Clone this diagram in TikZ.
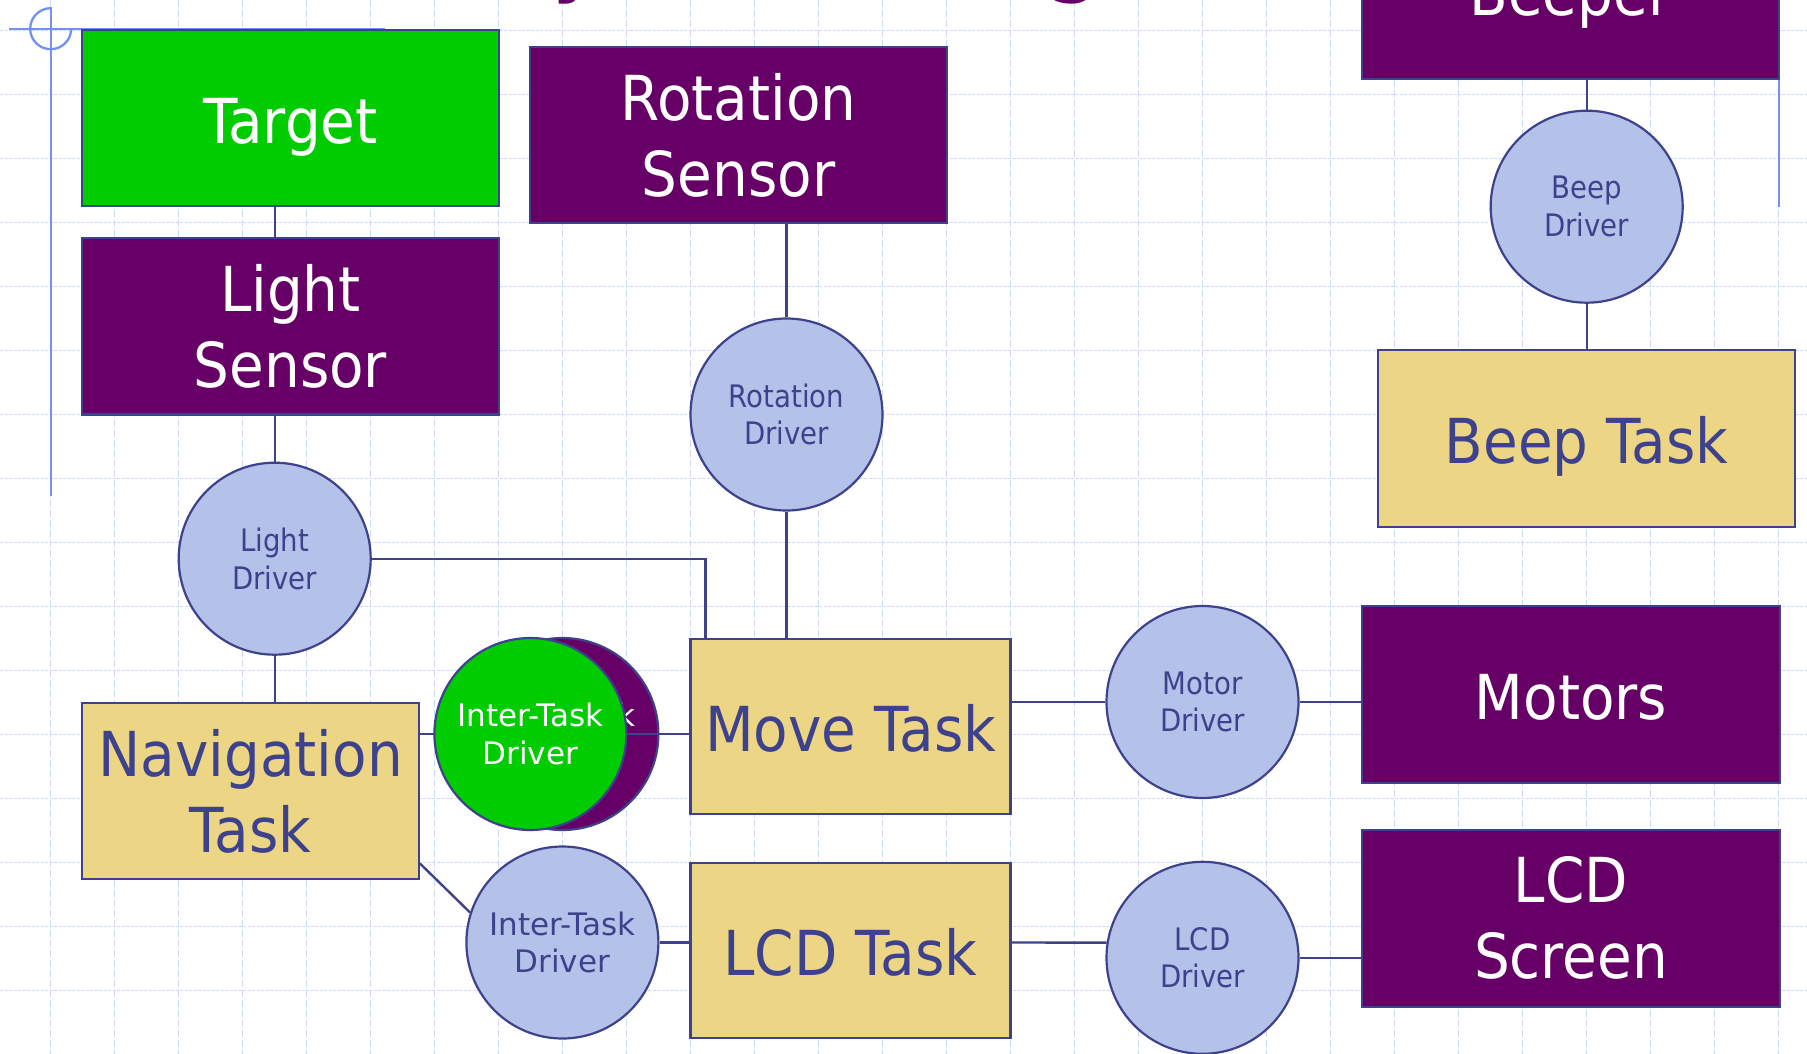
\documentclass[tikz,border=0pt]{standalone}
\usepackage{fontspec}
\setmainfont[FakeStretch=0.89]{DejaVu Sans}
\newfontfamily\BigFam[FakeStretch=0.91]{DejaVu Sans}
\newfontfamily\WideFam{DejaVu Sans}
\definecolor{hwpurple}{RGB}{102,0,102}
\definecolor{hwgreen}{RGB}{0,204,0}
\definecolor{hwtan}{RGB}{236,214,134}
\definecolor{hwdrv}{RGB}{180,194,234}
\definecolor{hwnavy}{RGB}{62,66,140}
\definecolor{hwgrid}{RGB}{205,216,250}
\definecolor{hwdeco}{RGB}{115,145,240}
\newcommand\BigTxt{\BigFam\fontsize{62}{76}\selectfont}
\newcommand\SmallTxt{\fontsize{31}{37.7}\selectfont}
\newcommand\WideSmallTxt{\WideFam\fontsize{31}{37.7}\selectfont}
\newcommand\TitleTxt{\fontsize{109}{109}\selectfont}
\begin{document}
\begin{tikzpicture}[x=1pt,y=-1pt,
  boxnode/.style={rectangle, draw=hwnavy, line width=2.2pt, inner sep=0pt,
    minimum width=416.7pt, minimum height=176.4pt, align=center, font=\BigTxt},
  sensor/.style={boxnode, fill=hwpurple, text=white},
  target/.style={boxnode, fill=hwgreen, text=white},
  task/.style={boxnode, fill=hwtan, text=hwnavy},
  oneline/.style={text height=50pt, text depth=0pt},
  drv/.style={circle, draw=hwnavy, line width=2.2pt, fill=hwdrv, text=hwnavy,
    minimum size=192pt, inner sep=0pt, align=center, font=\SmallTxt},
  itdrv/.style={drv, font=\WideSmallTxt},
  link/.style={draw=hwnavy, line width=2.4pt},
  gridh/.style={draw=hwgrid, line width=1.4pt, dash pattern=on 3pt off 1.5pt},
  gridv/.style={draw=hwgrid, line width=1.4pt, dash pattern=on 7pt off 3pt},
  deco/.style={draw=hwdeco, line width=2.3pt}]
\useasboundingbox (0,0) rectangle (1807,1054);
\clip (0,0) rectangle (1807,1054);
\fill[white] (0,0) rectangle (1807,1054);
% grid
\foreach \i in {0,...,27} \draw[gridv] (50.7+64*\i,0) -- (50.7+64*\i,1054);
\foreach \j in {0,...,16} \draw[gridh] (0,30.7+64*\j) -- (1807,30.7+64*\j);
% title (cut off at the top)
\node[anchor=base west, inner sep=0pt, font=\TitleTxt, text=hwpurple] (title) at (490,-18.5) {System Diagram};
% template decoration
\draw[deco] (50.7,7.3) -- (50.7,496);
\draw[deco] (9.3,28.7) -- (385,28.7);
\draw[deco] (50.7,8.2) arc[start angle=90, end angle=360, radius=20.5pt];
\draw[deco] (1778.7,0) -- (1778.7,206.7);
% nodes
\node[target, oneline] (target) at (290.4,118) {Target};
\node[sensor] (lightsensor) at (290.4,326.3) {Light\\Sensor};
\node[sensor] (rotsensor) at (738.5,134.9) {Rotation\\Sensor};
\node[sensor, oneline] (beeper) at (1570.3,-9.5) {Beeper};
\node[drv] (beepdriver) at (1586.7,206.7) {Beep\\Driver};
\node[task, oneline] (beeptask) at (1586.7,438.5) {Beep Task};
\node[drv] (rotdriver) at (786.5,414.5) {Rotation\\Driver};
\node[drv] (lightdriver) at (274.7,558.7) {Light\\Driver};
\node[task, minimum width=336.5pt] (navtask) at (250.6,790.9) {Navigation\\Task};
\node[task, oneline, minimum width=320pt, minimum height=175.3pt] (movetask) at (850.5,726.4) {Move Task};
\node[drv] (motordriver) at (1202.5,702) {Motor\\Driver};
\node[sensor, oneline, minimum width=417.4pt] (motors) at (1571,694.4) {Motors};
\node[task, oneline, minimum width=320pt, minimum height=174.4pt] (lcdtask) at (850.5,950.5) {LCD Task};
\node[itdrv] (itd) at (562.4,942.5) {Inter-Task\\Driver};
\node[drv] (lcddriver) at (1202.5,957.8) {LCD\\Driver};
\node[sensor, minimum width=417.4pt] (lcdscreen) at (1571,918.4) {LCD\\Screen};
\node[itdrv, fill=hwpurple, text=white] (itdp) at (562.4,734) {Inter-Task\\Driver};
% connectors
\draw[link] (lightdriver |- target.south) -- (lightdriver |- lightsensor.north);
\draw[link] (lightdriver |- lightsensor.south) -- (lightdriver.north);
\draw[link] (lightdriver.south) -- (lightdriver |- navtask.north);
\draw[link] (lightdriver.east) -| ([xshift=16pt]movetask.north west);
\draw[link] (rotdriver |- rotsensor.south) -- (rotdriver.north);
\draw[link] (rotdriver.south) -- (rotdriver |- movetask.north);
\draw[link] (beepdriver |- beeper.south) -- (beepdriver.north);
\draw[link] (beepdriver.south) -- (beepdriver |- beeptask.north);
\draw[link] (navtask.east |- itdp.center) -- (movetask.west |- itdp.center);
\draw[link] (movetask.east |- motordriver.west) -- (motordriver.west);
\draw[link] (motordriver.east) -- (motors.west |- motordriver.east);
\draw[link] ([yshift=16.7pt]navtask.south east) -- (itd.162);
\draw[link] (itd.east) -- (lcdtask.west |- itd.east);
\draw[link] (lcdtask.east |- itd.east) -- (lcddriver.171);
\draw[link] (lcddriver.east) -- (lcdscreen.west |- lcddriver.east);
% green driver in front
\node[itdrv, fill=hwgreen, text=white] (itdg) at (530.4,734) {Inter-Task\\Driver};
\end{tikzpicture}
\end{document}
